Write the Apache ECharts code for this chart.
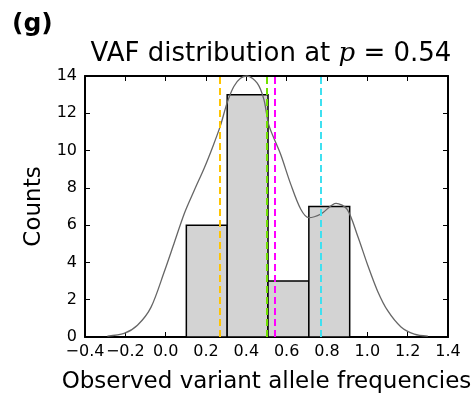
<!DOCTYPE html>
<html>
<head>
<meta charset="utf-8">
<script src="https://cdn.jsdelivr.net/npm/echarts@6/dist/echarts.min.js"></script>
<style>html,body{margin:0;padding:0;background:#fff}#c{width:476px;height:399px}</style>
</head>
<body>
<div id="c"></div>
<script>
// ---- data ----
const binEdges = [0.1025, 0.305, 0.5075, 0.71, 0.9125];
const binCounts = [6, 13, 3, 7];
const kdeX = [-0.289, -0.206, -0.14, -0.073, -0.007, 0.043, 0.093, 0.142, 0.192, 0.235, 0.272, 0.305, 0.338, 0.371, 0.404, 0.454, 0.487, 0.512, 0.57, 0.62, 0.67, 0.71, 0.77, 0.845, 0.90, 0.952, 1.002, 1.051, 1.101, 1.167, 1.233, 1.30];
const kdeY = [0.05, 0.19, 0.63, 1.59, 3.5, 5.07, 6.64, 7.87, 9.08, 10.25, 11.35, 12.57, 13.44, 13.88, 14.0, 13.62, 12.75, 11.35, 9.8, 8.2, 6.85, 6.4, 6.6, 7.17, 6.85, 5.42, 3.85, 2.46, 1.41, 0.54, 0.16, 0.05];
const vlineX = [0.27, 0.502, 0.542, 0.773];
const xTickMin = -0.4, xTickMax = 1.4, xTickStep = 0.2;
const yTickMin = 0, yTickMax = 14, yTickStep = 2;
const titleText = 'VAF distribution at {p|p} = 0.54';
const panelLabel = '(g)';
const xName = 'Observed variant allele frequencies';
const yName = 'Counts';

// ---- styles ----
const vlineColors = ['#ffc400', '#70e000', '#ff00ff', '#3fe0f0'];
const font = 'DejaVu Sans';

const histData = binCounts.map((c, i) => [binEdges[i], binEdges[i + 1], c]);
const kdeData = kdeX.map((x, i) => [x, kdeY[i]]);

const fmtX = v => (v < -1e-9 ? '\u2212' : '') + Math.abs(v).toFixed(1);

function axisCommon() {
  return {
    axisLine: { show: true, onZero: false, lineStyle: { color: '#000', width: 2 } },
    axisTick: { show: true, inside: true, length: 5, lineStyle: { color: '#000', width: 1 } },
    splitLine: { show: false }
  };
}

const chart = echarts.init(document.getElementById('c'), null, { renderer: 'canvas' });
chart.setOption({
  animation: false,
  backgroundColor: '#fff',
  grid: { left: 85, right: 28, top: 76, bottom: 55, containLabel: false },
  title: {
    text: titleText,
    left: 266, top: 36, textAlign: 'center',
    textStyle: {
      fontFamily: font, fontSize: 26, fontWeight: 'normal', color: '#000',
      rich: { p: { fontFamily: 'DejaVu Serif', fontStyle: 'italic', fontSize: 26, color: '#000' } }
    }
  },
  graphic: [{
    type: 'text', left: 12, top: 12,
    style: { text: panelLabel, font: 'bold 25px "DejaVu Sans"', fill: '#000' }
  }],
  xAxis: [
    Object.assign({
      type: 'value', min: xTickMin, max: xTickMax, interval: xTickStep, position: 'bottom',
      name: xName, nameLocation: 'middle', nameGap: 34,
      nameTextStyle: { fontFamily: font, fontSize: 23, color: '#000' },
      axisLabel: { show: true, formatter: fmtX, fontFamily: font, fontSize: 16, color: '#000', margin: 7, showMinLabel: true, showMaxLabel: true }
    }, axisCommon()),
    Object.assign({
      type: 'value', min: xTickMin, max: xTickMax, interval: xTickStep, position: 'top',
      axisLabel: { show: false }
    }, axisCommon())
  ],
  yAxis: [
    Object.assign({
      type: 'value', min: yTickMin, max: yTickMax, interval: yTickStep, position: 'left',
      name: yName, nameLocation: 'middle', nameGap: 39, nameRotate: 90,
      nameTextStyle: { fontFamily: font, fontSize: 23, color: '#000' },
      axisLabel: { show: true, fontFamily: font, fontSize: 16, color: '#000', margin: 8 }
    }, axisCommon()),
    Object.assign({
      type: 'value', min: yTickMin, max: yTickMax, interval: yTickStep, position: 'right',
      axisLabel: { show: false }
    }, axisCommon())
  ],
  series: [
    {
      type: 'custom',
      xAxisIndex: 0, yAxisIndex: 0,
      data: histData,
      encode: { x: [0, 1], y: 2 },
      renderItem: function (params, api) {
        const p0 = api.coord([api.value(0), api.value(2)]);
        const p1 = api.coord([api.value(1), 0]);
        return {
          type: 'rect',
          shape: { x: p0[0], y: p0[1], width: p1[0] - p0[0], height: p1[1] - p0[1] },
          style: { fill: '#d3d3d3', stroke: '#000', lineWidth: 1.5 }
        };
      },
      z: 1
    },
    {
      type: 'line',
      xAxisIndex: 0, yAxisIndex: 0,
      data: kdeData,
      smooth: 0.3,
      showSymbol: false,
      clip: false,
      lineStyle: { color: '#666', width: 1.3 },
      z: 3,
      markLine: {
        silent: true,
        symbol: 'none',
        label: { show: false },
        animation: false,
        data: vlineX.map((x, i) => ({ xAxis: x, lineStyle: { color: vlineColors[i], type: [7, 4], width: 2 } }))
      }
    }
  ]
});
</script>
</body>
</html>
